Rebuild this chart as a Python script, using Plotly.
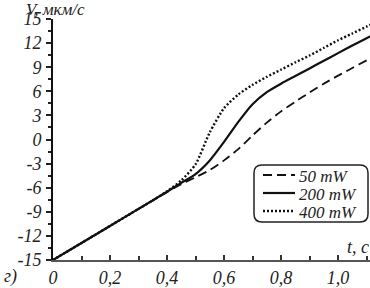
import plotly.graph_objects as go

t = [0, 0.05, 0.1, 0.15, 0.2, 0.25, 0.3, 0.35, 0.4, 0.45, 0.5, 0.55, 0.6, 0.65, 0.7,
     0.75, 0.8, 0.85, 0.9, 0.95, 1.0, 1.05, 1.1, 1.12]
v_50 = [-15, -13.94, -12.88, -11.82, -10.76, -9.7, -8.64, -7.58, -6.55, -5.55, -4.7, -3.8,
        -2.6, -1.2, 0.5, 2.1, 3.5, 4.7, 5.85, 6.95, 7.95, 8.9, 9.85, 10.2]
v_200 = [-15, -13.94, -12.88, -11.82, -10.76, -9.7, -8.64, -7.58, -6.5, -5.4, -4.3, -2.6,
         -0.3, 2.2, 4.4, 5.9, 6.95, 7.9, 8.85, 9.8, 10.75, 11.7, 12.6, 12.95]
v_400 = [-15, -13.94, -12.88, -11.82, -10.76, -9.7, -8.64, -7.58, -6.45, -5.1, -3.1, 0.9,
         3.9, 5.6, 6.8, 7.8, 8.7, 9.6, 10.45, 11.4, 12.35, 13.2, 14.05, 14.4]

x_ticks = [0, 0.2, 0.4, 0.6, 0.8, 1.0]
x_ticktext = ["0", "0,2", "0,4", "0,6", "0,8", "1,0"]
y_ticks = [15, 12, 9, 6, 3, 0, -3, -6, -9, -12, -15]
y_ticktext = ["15", "12", "9", "6", "3", "0", "-3", "-6", "-9", "-12", "-15"]
series_names = ["50 mW", "200 mW", "400 mW"]

SERIF = "Liberation Serif, Times New Roman, serif"
W, H = 370, 288
L, R, T, B = 53, 370, 19, 260  # plot area in pixels

def px(x):
    return (x - L) / (R - L)

def py(y):
    return (B - y) / (B - T)

styles = [dict(color="#111", width=1.8, dash="9px,5px"),
          dict(color="#111", width=2.2),
          dict(color="#111", width=2.4, dash="2px,2px")]

fig = go.Figure()
for name, vals, st in zip(series_names, [v_50, v_200, v_400], styles):
    fig.add_trace(go.Scatter(x=t, y=vals, mode="lines", name=name,
                             line=dict(shape="spline", smoothing=0.6, **st)))

font_it = dict(family=SERIF, size=18, color="#222", style="italic")

fig.update_layout(
    width=W, height=H,
    margin=dict(l=L, r=W - R, t=T, b=H - B),
    paper_bgcolor="white", plot_bgcolor="white",
    showlegend=False,
    xaxis=dict(range=[0, 1.112], tickvals=x_ticks, ticktext=x_ticktext,
               ticks="inside", ticklen=5, tickwidth=1.5, tickcolor="#333",
               showline=True, linecolor="#555", linewidth=2,
               showgrid=False, zeroline=False, tickfont=font_it,
               minor=dict(dtick=0.1, ticks="inside", ticklen=4, tickcolor="#333", tickwidth=1.5)),
    yaxis=dict(range=[-15, 15], tickvals=y_ticks, ticktext=y_ticktext,
               ticks="outside", ticklen=5, tickwidth=1.5, tickcolor="#222",
               showline=True, linecolor="#111", linewidth=2,
               showgrid=False, zeroline=False, tickfont=font_it, ticklabelstandoff=1,
               minor=dict(dtick=1.5, ticks="outside", ticklen=3, tickcolor="#222", tickwidth=1.5)),
)

# rounded legend box
x0, x1, y0, y1, r = px(254), px(368), py(222), py(165), 8
rx, ry = r / (R - L), r / (B - T)
path = (f"M {x0+rx},{y0} L {x1-rx},{y0} Q {x1},{y0} {x1},{y0+ry} "
        f"L {x1},{y1-ry} Q {x1},{y1} {x1-rx},{y1} L {x0+rx},{y1} "
        f"Q {x0},{y1} {x0},{y1-ry} L {x0},{y0+ry} Q {x0},{y0} {x0+rx},{y0} Z")
fig.add_shape(type="path", path=path, xref="paper", yref="paper",
              line=dict(color="#222", width=1.5), fillcolor="white", layer="above")

# legend entries
rows = [175, 193, 211]
for name, st, yy in zip(series_names, styles, rows):
    fig.add_shape(type="line", xref="paper", yref="paper",
                  x0=px(263), x1=px(295), y0=py(yy), y1=py(yy),
                  line=st, layer="above")
    fig.add_annotation(text=name, xref="paper", yref="paper", x=px(297), y=py(yy + 1),
                       xanchor="left", yanchor="middle", showarrow=False,
                       font=dict(family=SERIF, size=17, color="#222", style="italic"))

fig.add_annotation(text="V, мкм/с", xref="paper", yref="paper", x=px(24), y=py(-2),
                   xanchor="left", yanchor="top", showarrow=False,
                   font=dict(family=SERIF, size=17, color="#222", style="italic"))
fig.add_annotation(text="t, c", xref="paper", yref="paper", x=px(371), y=py(259),
                   xanchor="right", yanchor="bottom", showarrow=False, font=font_it)
fig.add_annotation(text="г)", xref="paper", yref="paper", x=px(2), y=py(289),
                   xanchor="left", yanchor="bottom", showarrow=False, font=font_it)

fig.write_html("out.html", config={"displayModeBar": False},
               post_script="document.body.style.margin='0';document.body.style.overflow='hidden';")
